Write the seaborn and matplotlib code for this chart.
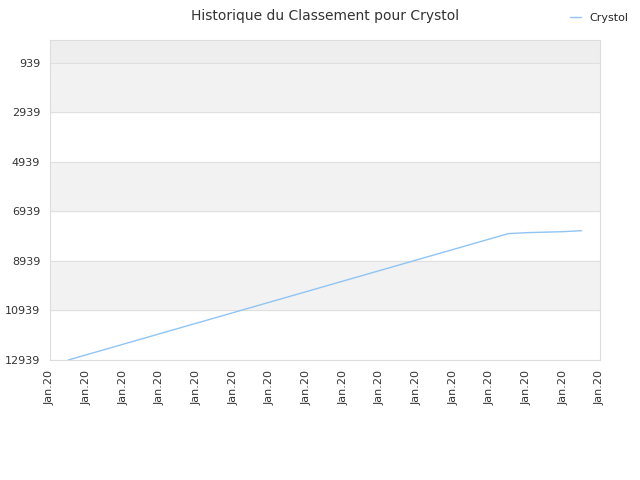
import matplotlib
matplotlib.use("Agg")
import matplotlib.pyplot as plt
import seaborn as sns
import pandas as pd

x_pos = [0.5, 12.5, 13.0, 14.0, 14.5]
ranks = [12939, 7839, 7800, 7760, 7720]
tick_vals = [939, 2939, 4939, 6939, 8939, 10939, 12939]
x_labels = ["Jan.20"] * 16

sns.set_style("white")
fig, ax = plt.subplots(figsize=(6.4, 4.8), dpi=100)
fig.subplots_adjust(left=0.078, right=0.9375, top=0.917, bottom=0.25)

df = pd.DataFrame({"x": x_pos, "rank": ranks, "name": "Crystol"})
sns.lineplot(data=df, x="x", y="rank", hue="name", palette=["#90c4f4"], ax=ax, linewidth=1)

ax.set_ylim(12939, 19)
ax.set_xlim(0, 15)
# bands
ax.axhspan(19, 939, color="#eeeeee", zorder=0)
for i in range(0, 6, 2):
    ax.axhspan(tick_vals[i], tick_vals[i + 1], color="#f2f2f2", zorder=0)
for t in tick_vals:
    ax.axhline(t, color="#e0e0e0", linewidth=0.8, zorder=0.5)
ax.set_yticks(tick_vals)
ax.set_yticklabels([str(t) for t in tick_vals], fontsize=8, color="#333333")
ax.set_xticks(range(16))
ax.set_xticklabels(x_labels, rotation=90, fontsize=8, color="#333333")
ax.set_xlabel("")
ax.set_ylabel("")
for s in ax.spines.values():
    s.set_color("#dddddd")
ax.set_title("Historique du Classement pour Crystol", fontsize=10, color="#333333", pad=14)
ax.legend(loc="upper right", bbox_to_anchor=(1.07, 1.115), frameon=False, fontsize=8, handlelength=1)
fig.savefig("out.png", dpi=100)
